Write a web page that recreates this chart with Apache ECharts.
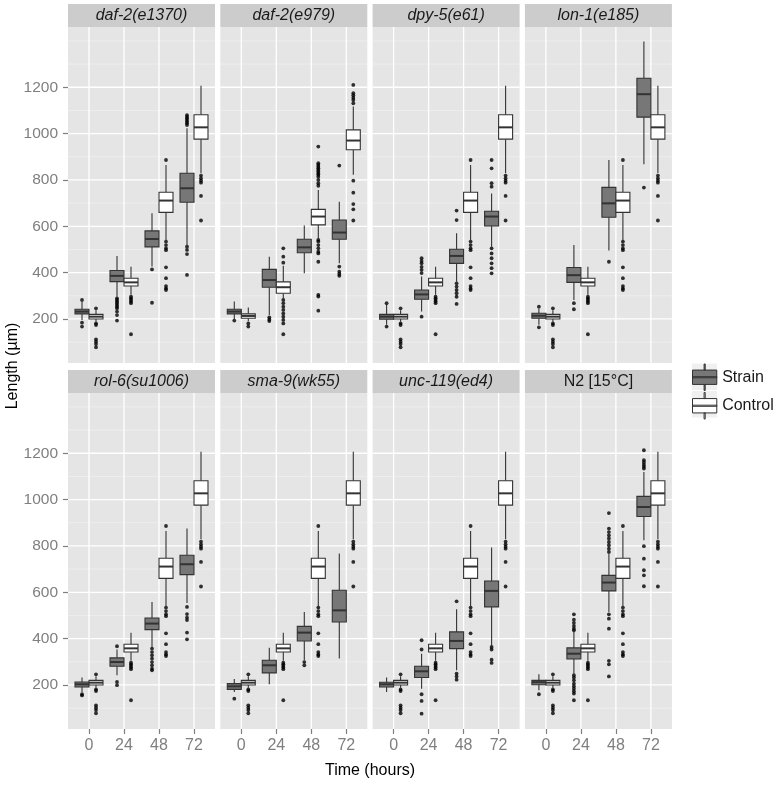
<!DOCTYPE html>
<html>
<head>
<meta charset="utf-8">
<script src="https://cdn.jsdelivr.net/npm/echarts@6.0.0/dist/echarts.min.js"></script>
<style>
  html, body { margin: 0; padding: 0; background: #fff; }
  #chart { width: 779px; height: 785px; }
</style>
</head>
<body>
<div id="chart"></div>
<script>
const times = ['0', '24', '48', '72'];
const yTicks = [200, 400, 600, 800, 1000, 1200];
const yMinor = [100, 300, 500, 700, 900, 1100, 1300, 1400];

// each box: [lower whisker, Q1, median, Q3, upper whisker], one per time point
const controlBox = [
    [188, 200, 210, 220, 238],
    [304, 342, 358, 376, 425],
    [541, 660, 711, 747, 865],
    [829, 976, 1027, 1081, 1207]
];
const controlOut = [
    [246, 181, 174, 112, 102, 92, 78],
    [296, 289, 282, 275, 268, 134],
    [886, 534, 519, 505, 497, 423, 376, 342, 332, 325],
    [819, 807, 797, 788, 731, 625]
];
// daf-2(e979) was compared with its own control
const e979ControlBox = [
    [190, 203, 213, 222, 250],
    [289, 311, 337, 360, 430],
    [548, 606, 642, 673, 757],
    [822, 930, 970, 1016, 1117]
];
const e979ControlOut = [
    [181, 167],
    [505, 469, 443, 282, 268, 253, 239, 224, 210, 196, 181, 134],
    [944, 872, 865, 857, 850, 843, 836, 828, 822, 814, 800, 786, 775, 541, 534, 519, 505, 490, 483, 447, 304, 297, 236],
    [1210, 1174, 1165, 1155, 1145, 1131, 797, 745, 696, 673, 625]
];

const e1370Box = [
    [196, 222, 232, 242, 275],
    [296, 361, 386, 409, 472],
    [426, 511, 545, 580, 656],
    [519, 704, 764, 829, 1023]
];
const e1370Out = [
    [282, 184, 167],
    [289, 282, 275, 268, 260, 253, 246, 232, 217, 193],
    [414, 270],
    [1080, 1073, 1066, 1059, 1052, 1045, 1037, 512, 498, 480, 390]
];
const e979Box = [
    [200, 222, 232, 242, 275],
    [217, 337, 368, 414, 469],
    [397, 486, 509, 544, 603],
    [440, 544, 573, 627, 706]
];
const e979Out = [[193], [207, 198, 191], [], [862, 426, 404, 394, 386]];
const dpy5Box = [
    [175, 199, 210, 220, 262],
    [232, 285, 306, 325, 383],
    [361, 440, 472, 501, 570],
    [512, 601, 642, 665, 742]
];
const dpy5Out = [
    [268, 167],
    [462, 450, 440, 425, 412, 398, 210],
    [668, 627, 354, 340, 325, 311, 296, 265],
    [886, 850, 786, 771, 505, 483, 462, 440, 419, 397]
];
const lon1Box = [
    [175, 203, 214, 225, 245],
    [282, 358, 389, 422, 519],
    [495, 639, 699, 768, 886],
    [868, 1071, 1170, 1239, 1397]
];
const lon1Out = [[253, 164], [268, 242], [447], [767]];
const rol6Box = [
    [170, 191, 203, 213, 232],
    [242, 281, 299, 317, 353],
    [364, 439, 465, 489, 558],
    [554, 676, 721, 760, 875]
];
const rol6Out = [
    [160, 155],
    [367, 213, 199],
    [357, 342, 328, 314, 299, 285, 270, 263],
    [537, 506, 491, 480, 426, 397]
];
const sma9Box = [
    [170, 181, 194, 206, 226],
    [203, 252, 285, 307, 361],
    [307, 390, 426, 453, 515],
    [314, 472, 522, 609, 767]
];
const sma9Out = [[141], [], [299, 285], []];
const unc119Box = [
    [170, 191, 203, 212, 232],
    [184, 232, 259, 281, 335],
    [263, 357, 390, 429, 527],
    [371, 537, 606, 649, 793]
];
const unc119Out = [[], [393, 353, 160, 131, 76], [561, 249, 237, 223], [364, 353, 309, 295]];
const n2Box = [
    [177, 201, 212, 220, 246],
    [250, 312, 335, 360, 430],
    [515, 606, 642, 673, 767],
    [825, 927, 968, 1014, 1119]
];
const n2Out = [
    [160],
    [505, 482, 468, 455, 443, 436, 242, 232, 220, 206, 195, 184, 173, 163, 134],
    [942, 875, 860, 846, 832, 817, 803, 788, 774, 505, 486, 443, 304, 289, 237],
    [1213, 1170, 1160, 1150, 1142, 1134, 799, 745, 695, 673, 626]
];

const panelNames = ['daf-2(e1370)', 'daf-2(e979)', 'dpy-5(e61)', 'lon-1(e185)',
    'rol-6(su1006)', 'sma-9(wk55)', 'unc-119(ed4)', 'N2 [15°C]'];
const strainBoxes = [e1370Box, e979Box, dpy5Box, lon1Box, rol6Box, sma9Box, unc119Box, n2Box];
const strainOuts = [e1370Out, e979Out, dpy5Out, lon1Out, rol6Out, sma9Out, unc119Out, n2Out];
const controlBoxes = [controlBox, e979ControlBox, controlBox, controlBox, controlBox, controlBox, controlBox, controlBox];
const controlOuts = [controlOut, e979ControlOut, controlOut, controlOut, controlOut, controlOut, controlOut, controlOut];

const FONT = '"Liberation Sans", Arial, Helvetica, sans-serif';
const panelLeft = 68, panelStep = 152.3, panelW = 147, panelH = 336;
const panelTops = [27, 393];
const stripH = 23;
const dodge = 0.2;

const renderBox = (params, api) => {
    const x = api.value(0);
    const half = api.size([0.4, 0])[0] / 2;
    const p = [1, 2, 3, 4, 5].map(i => api.coord([x, api.value(i)]));
    const cx = p[0][0];
    const stroke = '#333333';
    return {
        type: 'group',
        children: [
            { type: 'line', shape: { x1: cx, y1: p[4][1], x2: cx, y2: p[3][1] }, style: { stroke, lineWidth: 1.1 } },
            { type: 'line', shape: { x1: cx, y1: p[1][1], x2: cx, y2: p[0][1] }, style: { stroke, lineWidth: 1.1 } },
            {
                type: 'rect',
                shape: { x: cx - half, y: p[3][1], width: half * 2, height: p[1][1] - p[3][1] },
                style: { fill: api.visual('color'), stroke, lineWidth: 1.1 }
            },
            { type: 'line', shape: { x1: cx - half, y1: p[2][1], x2: cx + half, y2: p[2][1] }, style: { stroke, lineWidth: 2 } }
        ]
    };
};

// kind 0: major y line, 1: minor y line, 2: x line
const renderGridLine = (params, api) => {
    const cs = params.coordSys;
    const kind = api.value(0);
    const v = api.value(1);
    if (kind === 2) {
        const x = api.coord([v, 500])[0];
        return { type: 'line', shape: { x1: x, y1: cs.y, x2: x, y2: cs.y + cs.height }, style: { stroke: '#ffffff', lineWidth: 1.3 } };
    }
    const y = api.coord([1, v])[1];
    return {
        type: 'line',
        shape: { x1: cs.x, y1: y, x2: cs.x + cs.width, y2: y },
        style: { stroke: kind === 0 ? '#ffffff' : '#f2f2f2', lineWidth: kind === 0 ? 1.3 : 0.7 }
    };
};

const gridLineData = [
    ...yTicks.map(v => [0, v]),
    ...yMinor.map(v => [1, v]),
    ...times.map((t, i) => [2, i + 1])
];

const boxData = (boxes, offset) => boxes.map((b, i) => [i + 1 + offset, ...b]);
const outData = (outs, offset) => outs.flatMap((o, i) => o.map(v => [i + 1 + offset, v]));

const grids = [], xAxes = [], yAxes = [], series = [], graphics = [];

panelNames.forEach((name, k) => {
    const col = k % 4;
    const row = Math.floor(k / 4);
    const left = panelLeft + col * panelStep;
    const top = panelTops[row];
    const bottom = row === 1;
    const first = col === 0;

    grids.push({
        left, top, width: panelW, height: panelH,
        show: true, backgroundColor: '#e5e5e5', borderWidth: 0,
        outerBoundsMode: 'none'
    });
    xAxes.push({
        gridIndex: k, type: 'value', min: 0.4, max: 4.6,
        splitLine: { show: false },
        axisLine: { show: false },
        axisTick: { show: bottom, customValues: [1, 2, 3, 4], length: 5, lineStyle: { color: '#7f7f7f', width: 1.2 } },
        axisLabel: {
            show: bottom, customValues: [1, 2, 3, 4],
            formatter: v => times[Math.round(v) - 1],
            color: '#7f7f7f', fontSize: 16, fontFamily: FONT, margin: 9
        }
    });
    yAxes.push({
        gridIndex: k, type: 'value', min: 10, max: 1460,
        splitLine: { show: false },
        axisLine: { show: false },
        axisTick: { show: first, customValues: yTicks, length: 5, lineStyle: { color: '#7f7f7f', width: 1.2 } },
        axisLabel: {
            show: first, customValues: yTicks, formatter: v => String(v),
            color: '#7f7f7f', fontSize: 15.5, fontFamily: FONT, margin: 10
        }
    });

    series.push({
        type: 'custom', name: 'grid', xAxisIndex: k, yAxisIndex: k, z: 1, silent: true,
        renderItem: renderGridLine, data: gridLineData, encode: { x: 0, y: 1 }
    });
    series.push({
        type: 'custom', name: 'Strain', xAxisIndex: k, yAxisIndex: k, z: 2,
        itemStyle: { color: '#777777' },
        renderItem: renderBox, data: boxData(strainBoxes[k], -dodge), encode: { x: 0, y: [1, 2, 3, 4, 5] }
    });
    series.push({
        type: 'custom', name: 'Control', xAxisIndex: k, yAxisIndex: k, z: 2,
        itemStyle: { color: '#ffffff' },
        renderItem: renderBox, data: boxData(controlBoxes[k], dodge), encode: { x: 0, y: [1, 2, 3, 4, 5] }
    });
    series.push({
        type: 'scatter', name: 'Strain outliers', xAxisIndex: k, yAxisIndex: k, z: 3,
        symbolSize: 3.8, itemStyle: { color: '#000000' },
        data: outData(strainOuts[k], -dodge)
    });
    series.push({
        type: 'scatter', name: 'Control outliers', xAxisIndex: k, yAxisIndex: k, z: 3,
        symbolSize: 3.8, itemStyle: { color: '#000000' },
        data: outData(controlOuts[k], dodge)
    });

    // facet strip
    graphics.push({
        type: 'rect', shape: { x: left, y: top - stripH, width: panelW, height: stripH },
        style: { fill: '#cccccc' }
    });
    graphics.push({
        type: 'text', x: left + panelW / 2, y: top - stripH / 2 + 0.5,
        style: {
            text: name, fill: '#1a1a1a', fontSize: 16, fontFamily: FONT,
            fontStyle: name.startsWith('N2') ? 'normal' : 'italic',
            align: 'center', verticalAlign: 'middle'
        }
    });
});

// axis titles
graphics.push({
    type: 'text', x: 370, y: 771,
    style: { text: 'Time (hours)', fill: '#000000', fontSize: 16, fontFamily: FONT, align: 'center', verticalAlign: 'middle' }
});
graphics.push({
    type: 'text', x: 13, y: 366, rotation: Math.PI / 2,
    style: { text: 'Length (µm)', fill: '#000000', fontSize: 16, fontFamily: FONT, align: 'center', verticalAlign: 'middle' }
});
// legend key backgrounds
graphics.push({ type: 'rect', shape: { x: 692, y: 363.5, width: 25, height: 26.5 }, style: { fill: '#f0f0f0' } });
graphics.push({ type: 'rect', shape: { x: 692, y: 391, width: 25, height: 26.5 }, style: { fill: '#f0f0f0' } });

const boxIcon = 'path://M11.5,0h1v5.5h-1z M1,5.5h22v13h-22z M1,11.5h22v1h-22z M11.5,18.5h1v5.5h-1z';

const chart = echarts.init(document.getElementById('chart'), null, { renderer: 'canvas' });
chart.setOption({
    animation: false,
    backgroundColor: '#ffffff',
    textStyle: { fontFamily: FONT },
    grid: grids,
    xAxis: xAxes,
    yAxis: yAxes,
    legend: {
        left: 692, top: 363.5, orient: 'vertical', padding: 0,
        itemGap: 1, itemWidth: 25, itemHeight: 26.5,
        selectedMode: false,
        textStyle: { fontSize: 16, color: '#1a1a1a', fontFamily: FONT },
        data: [
            { name: 'Strain', icon: boxIcon, itemStyle: { color: '#777777', borderColor: '#333333', borderWidth: 1 } },
            { name: 'Control', icon: boxIcon, itemStyle: { color: '#ffffff', borderColor: '#333333', borderWidth: 1 } }
        ]
    },
    graphic: graphics,
    series
});
</script>
</body>
</html>
